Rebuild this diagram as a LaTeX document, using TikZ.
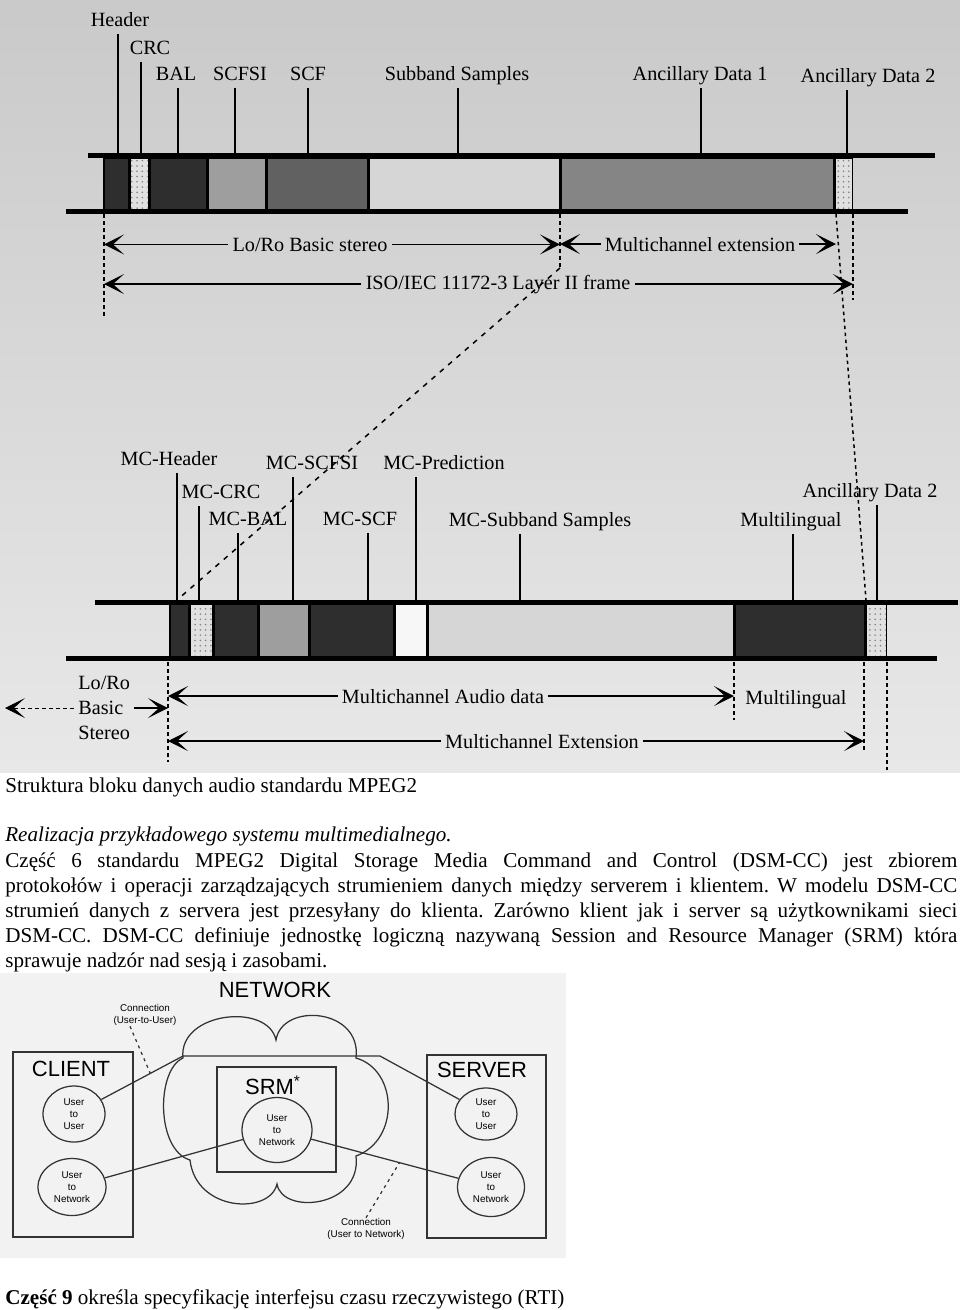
\documentclass[tikz,border=0pt]{standalone}
\usepackage{fontspec}
\setmainfont{Liberation Serif}
\newfontfamily\netfont{Liberation Sans}
\usetikzlibrary{arrows.meta, shapes.geometric, patterns}
\frenchspacing

\begin{document}
\begin{tikzpicture}[x=0.2mm, y=-0.2mm,
  lbl/.style={font=\fontsize{11.5}{14.2}\selectfont, inner xsep=0.8mm, inner ysep=0pt, anchor=base},
  fieldtick/.style={line width=0.3mm},
  arrow/.style={-{Stealth[length=4mm, width=4mm, inset=2.2mm]}, line width=0.3mm},
  guide/.style={dash pattern=on 0.7mm off 0.7mm, line width=0.3mm},
  link/.style={dash pattern=on 1mm off 1.2mm, line width=0.3mm},
  rail/.style={line width=1mm},
  blkdark/.style={fill=black!82},
  blkdots/.style={fill=black!12, postaction={pattern=dots, pattern color=black!50}},
  blkmid/.style={fill=black!38},
  blkanc/.style={fill=black!48},
  blkgrey/.style={fill=black!62},
  blklight/.style={fill=black!16},
  blkwhite/.style={fill=black!3},
  body/.style={font=\fontsize{12}{14.2}\selectfont, inner sep=0pt, anchor=base west},
  net/.style={font=\netfont\fontsize{12.5}{14}\selectfont, inner sep=0pt},
  tinylbl/.style={font=\netfont\fontsize{5.6}{7.2}\selectfont, inner sep=0pt, align=center},
  unit/.style={ellipse, draw=black!80, line width=0.25mm, inner sep=0pt, align=center, font=\netfont\fontsize{5.6}{6.8}\selectfont},
  wire/.style={draw=black!80, line width=0.25mm}
]
\useasboundingbox (0,0) rectangle (960,1310);

% Scanned backgrounds
\shade[top color=black!21, bottom color=black!9] (0,0) rectangle (960,772);
\fill[black!5] (0,973) rectangle (566,1258);

% ISO/IEC 11172-3 frame
\fill[black] (103,153) rectangle (853,214);
\foreach \a/\b/\f in {103/129/blkdark, 129/149/blkdots, 149/207/blkdark, 207/266/blkmid, 266/368/blkgrey, 368/560/blklight, 560/834/blkanc, 834/853/blkdots}
  \fill[\f] (\a+1.5,158.5) rectangle (\b-1.5,208.5);
\draw[rail] (88,155.5) -- (935,155.5);
\draw[rail] (66,211.5) -- (908,211.5);

% Frame fields
\node[lbl] (header) at (120,26) {Header};
\node[lbl] (crc) at (150,54) {CRC};
\node[lbl] (bal) at (176,80) {BAL};
\node[lbl] (scfsi) at (240,80) {SCFSI};
\node[lbl] (scf) at (308,80) {SCF};
\node[lbl] (subband) at (457,80) {Subband Samples};
\node[lbl] (ancone) at (700,80) {Ancillary Data 1};
\node[lbl] (anctwo) at (868,82) {Ancillary Data 2};
\foreach \n/\x in {header/118, crc/141, bal/178, scfsi/235, scf/308, subband/458, ancone/701, anctwo/847} {
  \coordinate (f\n) at (\x,153);
  \draw[fieldtick] ([yshift=-1.6mm]\n.base -| f\n) -- (f\n);
}

% Frame extents
\coordinate (gA) at (104,214);
\coordinate (gB) at (560,214);
\coordinate (gC) at (836,214);
\coordinate (gD) at (853,214);
\coordinate (gBend) at (560,268);
\draw[guide] (gA) -- ++(0,104);
\draw[guide] (gB) -- (gBend);
\draw[guide] (gD) -- ++(0,86);

\node[lbl] (lorob) at (310,251) {Lo/Ro Basic stereo};
\node[lbl] (mcext) at (700,251) {Multichannel extension};
\node[lbl] (iso) at (498,289) {ISO/IEC 11172-3 Layer II frame};
\draw[arrow] (lorob.west) -- (lorob.west -| gA);
\draw[arrow] (lorob.east) -- (lorob.east -| gB);
\draw[arrow] (mcext.west) -- (mcext.west -| gB);
\draw[arrow] (mcext.east) -- (mcext.east -| gC);
\draw[arrow] (iso.west) -- (iso.west -| gA);
\draw[arrow] (iso.east) -- (iso.east -| gD);

% Multichannel extension frame
\fill[black] (169,600) rectangle (887,661);
\foreach \a/\b/\f in {169/189/blkdark, 189/213/blkdots, 213/258/blkdark, 258/309/blkmid, 309/394/blkdark, 394/427/blkwhite, 427/734/blklight, 734/865/blkdark, 865/887/blkdots}
  \fill[\f] (\a+1.5,604.5) rectangle (\b-1.5,655.5);
\draw[rail] (95,602) -- (958,602);
\draw[rail] (66,658.5) -- (937,658.5);

\node[lbl] (mchdr) at (169,465) {MC-Header};
\node[lbl] (mccrc) at (221,498) {MC-CRC};
\node[lbl] (mcbal) at (248,525) {MC-BAL};
\node[lbl] (mcscfsi) at (312,469) {MC-SCFSI};
\node[lbl] (mcscf) at (360,525) {MC-SCF};
\node[lbl] (mcpred) at (444,469) {MC-Prediction};
\node[lbl] (mcsub) at (540,526) {MC-Subband Samples};
\node[lbl] (multi) at (791,526) {Multilingual};
\node[lbl] (mcanc) at (870,497) {Ancillary Data 2};
\foreach \n/\x in {mchdr/177, mccrc/199, mcbal/238, mcscfsi/293, mcscf/368, mcpred/416, mcsub/520, multi/793, mcanc/877} {
  \coordinate (f\n) at (\x,600);
  \draw[fieldtick] ([yshift=-1.6mm]\n.base -| f\n) -- (f\n);
}

% Links between the two frames
\coordinate (mcfoot) at (866,600);
\draw[link] (gBend) -- (fmchdr);
\draw[guide] (gC) -- (mcfoot);

% Multichannel extents
\coordinate (gE) at (168,662);
\coordinate (gF) at (734,662);
\coordinate (gG) at (864,662);
\coordinate (gH) at (887,662);
\coordinate (lfar) at (5,708);
\draw[guide] (gE) -- ++(0,100);
\draw[guide] (gF) -- ++(0,58);
\draw[guide] (gG) -- ++(0,90);
\draw[guide] (gH) -- ++(0,108);

\node[lbl, anchor=west, align=left] (lorost) at (74,708) {Lo/Ro\\Basic\\Stereo};
\node[lbl] (mcaudio) at (443,703) {Multichannel Audio data};
\node[lbl] (multib) at (796,704) {Multilingual};
\node[lbl] (mcextb) at (542,748) {Multichannel Extension};
\draw[arrow, line width=0.2mm, dash pattern=on 0.8mm off 0.6mm] (lorost.west) -- (lorost.west -| lfar);
\draw[arrow] (lorost.east) -- (lorost.east -| gE);
\draw[arrow] (mcaudio.west) -- (mcaudio.west -| gE);
\draw[arrow] (mcaudio.east) -- (mcaudio.east -| gF);
\draw[arrow] (mcextb.west) -- (mcextb.west -| gE);
\draw[arrow] (mcextb.east) -- (mcextb.east -| gG);

% Text
\node[body] (caption) at (5,792) {Struktura bloku danych audio standardu MPEG2};
\node[body] (realiz) at (5,841) {\itshape Realizacja przykładowego systemu multimedialnego.};
\node[body] (parA) at (5,867) {\makebox[190.4mm][s]{Część 6 standardu MPEG2 Digital Storage Media Command and Control (DSM-CC) jest zbiorem}};
\node[body] (parB) at (5,892) {\makebox[190.4mm][s]{protokołów i operacji zarządzających strumieniem danych między serverem i klientem. W modelu DSM-CC}};
\node[body] (parC) at (5,917) {\makebox[190.4mm][s]{strumień danych z servera jest przesyłany do klienta. Zarówno klient jak i server są użytkownikami sieci}};
\node[body] (parD) at (5,942) {\makebox[190.4mm][s]{DSM-CC. DSM-CC definiuje jednostkę logiczną nazywaną Session and Resource Manager (SRM) która}};
\node[body] (parE) at (5,967) {sprawuje nadzór nad sesją i zasobami.};
\node[body] (part9) at (5,1304) {\textbf{Część 9} określa specyfikację interfejsu czasu rzeczywistego (RTI)};

% Network model
\node[net] (network) at (275,990) {NETWORK};
\draw[wire] (183,1058) .. controls (178,1012) and (268,1002) .. (276,1040)
  .. controls (282,1002) and (362,1008) .. (356,1058)
  .. controls (398,1070) and (400,1140) .. (356,1156)
  .. controls (362,1208) and (282,1215) .. (277,1184)
  .. controls (270,1215) and (196,1212) .. (190,1160)
  .. controls (156,1150) and (156,1070) .. (183,1058) -- cycle;
\draw[wire] (13,1052) rectangle (133,1237);
\draw[wire] (427,1055) rectangle (546,1238);
\draw[wire] (217,1067) rectangle (336,1172);

\node[net] (client) at (71,1069) {CLIENT};
\node[net] (server) at (482,1070) {SERVER};
\node[net] (srm) at (273,1085) {SRM\textsuperscript{*}};

\node[unit, minimum width=12.4mm, minimum height=11.2mm] (cuu) at (74,1114) {User\\to\\User};
\node[unit, minimum width=13.6mm, minimum height=11.4mm] (cun) at (72,1187) {User\\to\\Network};
\node[unit, minimum width=14mm, minimum height=13mm] (srmc) at (277,1130) {User\\to\\Network};
\node[unit, minimum width=12.4mm, minimum height=10.4mm] (suu) at (486,1114) {User\\to\\User};
\node[unit, minimum width=13.4mm, minimum height=11.8mm] (sun) at (491,1187) {User\\to\\Network};

\coordinate (uuA) at (183,1056);
\coordinate (uuB) at (380,1056);
\draw[wire] (cuu) -- coordinate[pos=0.6] (uulink) (uuA) -- (uuB) -- (suu);
\draw[wire] (cun) -- (srmc);
\draw[wire] (srmc) -- coordinate[pos=0.6] (unlink) (sun);

\node[tinylbl] (uulbl) at (145,1015) {Connection\\(User-to-User)};
\node[tinylbl] (unlbl) at (366,1229) {Connection\\(User to Network)};
\draw[wire, dash pattern=on 0.6mm off 0.8mm] ([xshift=-3mm]uulbl.south) -- (uulink);
\draw[wire, dash pattern=on 0.6mm off 0.8mm] (unlbl.north) -- (unlink);

\end{tikzpicture}
\end{document}
